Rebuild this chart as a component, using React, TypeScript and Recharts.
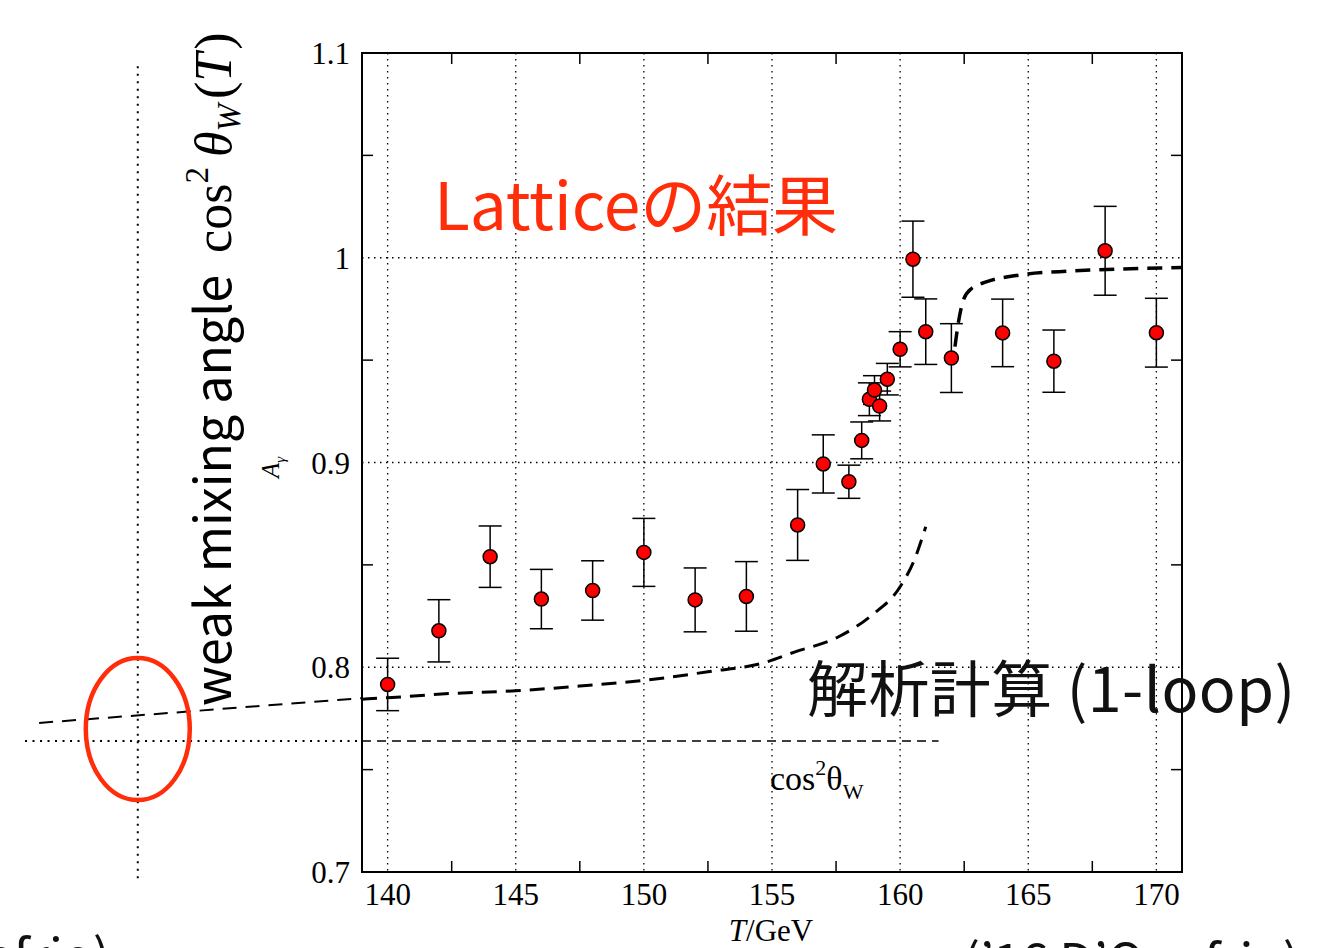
import React from 'react';
import {
  ComposedChart, Line, Scatter, ErrorBar, XAxis, YAxis, CartesianGrid,
  ReferenceArea, ReferenceLine,
} from 'recharts';

// canvas + plot frame (pixels)
const W = 1332;
const H = 948;
const PL = 362;
const PR = 1182;
const PT = 53;
const PB = 872;

// axis ranges
const X_MIN = 139;
const X_MAX = 171;
const Y_MIN = 0.7;
const Y_MAX = 1.1;

const xTicks = [140, 145, 150, 155, 160, 165, 170];
const yTicks = [0.7, 0.8, 0.9, 1.0, 1.1];
const xMinor = [142.5, 147.5, 152.5, 157.5, 162.5, 167.5];
const yMinor = [0.75, 0.85, 0.95, 1.05];

// lattice A_gamma with errors
const latticeT = [140, 142, 144, 146, 148, 150, 152, 154, 156, 157, 158, 158.5, 158.8, 159, 159.2, 159.5, 160, 160.5, 161, 162, 164, 166, 168, 170];
const latticeA = [0.7916, 0.8178, 0.854, 0.8333, 0.8375, 0.8561, 0.8329, 0.8346, 0.8695, 0.8993, 0.8906, 0.9108, 0.9309, 0.9354, 0.9276, 0.9407, 0.9553, 0.9993, 0.9639, 0.951, 0.9633, 0.9495, 1.0034, 0.9634];
const latticeErr = [0.0128, 0.0152, 0.015, 0.0145, 0.0145, 0.0166, 0.0156, 0.017, 0.0173, 0.0142, 0.0081, 0.009, 0.008, 0.007, 0.0073, 0.0077, 0.0086, 0.0186, 0.016, 0.0168, 0.0165, 0.0152, 0.0217, 0.0168];

// 1-loop curve, symmetric phase branch
const loopLowT = [139, 140, 142.5, 145, 147.5, 150, 152.5, 154.6, 155.9, 157.6, 158.9, 160, 160.55, 161];
const loopLowA = [0.7844, 0.7851, 0.7872, 0.7885, 0.7908, 0.7936, 0.7978, 0.8019, 0.8075, 0.8149, 0.8255, 0.8393, 0.8523, 0.8686];

// 1-loop curve, broken phase branch
const loopHighT = [162.14, 162.27, 162.47, 162.79, 163.39, 164.68, 166.63, 168.58, 171];
const loopHighA = [0.9566, 0.9681, 0.9794, 0.985, 0.9883, 0.9916, 0.9935, 0.9945, 0.9952];

// extension of the 1-loop curve to low T (slide annotation, outside the frame)
const loopExtT = [126.4, 139];
const loopExtA = [0.7728, 0.7849];

// zero-temperature value cos^2 theta_W
const cosW = 0.764;
const cosLineT = [139, 161.5];
const cosGuideT = [125.85, 139];

// marker of the T=0 crossing
const markT = 130.25;
const markSpan = [0.697, 1.0956];
const ringCenter = 0.7698;

const lattice = latticeT.map((t, i) => ({ t, v: latticeA[i], err: latticeErr[i] }));
const loopLow = loopLowT.map((t, i) => ({ t, v: loopLowA[i] }));
const loopHigh = loopHighT.map((t, i) => ({ t, v: loopHighA[i] }));
const loopExt = loopExtT.map((t, i) => ({ t, v: loopExtA[i] }));
const cosLine = cosLineT.map((t) => ({ t, v: cosW }));
const cosGuide = cosGuideT.map((t) => ({ t, v: cosW }));
const markLine = markSpan.map((v) => ({ t: markT, v }));
const ring = [{ t: markT, v: ringCenter }];

// background chart spans the whole canvas with the same scale as the frame
const pxX = (PR - PL) / (X_MAX - X_MIN);
const pxY = (PB - PT) / (Y_MAX - Y_MIN);
const bgX: [number, number] = [X_MIN - PL / pxX, X_MAX + (W - PR) / pxX];
const bgY: [number, number] = [Y_MIN - (H - PB) / pxY, Y_MAX + PT / pxY];

const tickLenX = 11 / pxX;
const tickLenY = 11 / pxY;

const RED = '#ff2d0a';
const serif = 'Liberation Serif, Times New Roman, serif';
const sans = 'Noto Sans CJK JP, Noto Sans, sans-serif';

const Dot = (p: any) => (
  <circle cx={p.cx} cy={p.cy} r={7} fill="#ff0000" stroke="#000" strokeWidth={1.5} />
);

const Ring = (p: any) => (
  <ellipse cx={p.cx} cy={p.cy} rx={52} ry={71} fill="none" stroke={RED} strokeWidth={4.5} />
);

export default function App() {
  return (
    <div style={{ position: 'absolute', left: 0, top: 0, width: W, height: H, overflow: 'hidden', background: '#fff' }}>
      {/* layer 1: annotations outside the frame */}
      <div style={{ position: 'absolute', left: 0, top: 0 }}>
        <ComposedChart width={W} height={H} margin={{ top: 0, right: 0, bottom: 0, left: 0 }}>
          <XAxis dataKey="t" type="number" domain={bgX} allowDataOverflow hide />
          <YAxis type="number" domain={bgY} allowDataOverflow hide />
          <Line data={markLine} dataKey="v" stroke="#000" strokeWidth={2} strokeDasharray="2 5.5" dot={false} isAnimationActive={false} />
          <Line data={cosGuide} dataKey="v" stroke="#000" strokeWidth={2} strokeDasharray="2 5.5" dot={false} isAnimationActive={false} />
          <Line data={loopExt} dataKey="v" stroke="#000" strokeWidth={2} strokeDasharray="14 9" dot={false} isAnimationActive={false} />
          <Scatter data={ring} dataKey="v" shape={Ring} isAnimationActive={false} />
        </ComposedChart>
      </div>

      {/* layer 2: the figure */}
      <div style={{ position: 'absolute', left: 0, top: 0 }}>
        <ComposedChart width={W} height={H} margin={{ top: PT, right: W - PR, bottom: 0, left: 0 }}>
          <CartesianGrid stroke="#000" strokeWidth={1.3} strokeDasharray="1.5 4.5" />
          <XAxis
            dataKey="t" type="number" domain={[X_MIN, X_MAX]} ticks={xTicks} interval={0}
            allowDataOverflow height={H - PB} axisLine={false} tickLine={false} tickSize={0} tickMargin={11}
            tick={{ fontFamily: serif, fontSize: 31, fill: '#000' }}
          />
          <YAxis
            type="number" domain={[Y_MIN, Y_MAX]} ticks={yTicks} interval={0}
            allowDataOverflow width={PL} axisLine={false} tickLine={false} tickSize={0} tickMargin={12}
            tickFormatter={(v: number) => String(Number(v.toFixed(2)))}
            tick={{ fontFamily: serif, fontSize: 31, fill: '#000' }}
          />
          <ReferenceArea x1={X_MIN} x2={X_MAX} y1={Y_MIN} y2={Y_MAX} fill="none" stroke="#000" strokeWidth={2} ifOverflow="visible" />
          {xMinor.map((t) => (
            <ReferenceLine key={'b' + t} segment={[{ x: t, y: Y_MIN }, { x: t, y: Y_MIN + tickLenY }]} stroke="#000" strokeWidth={1.5} />
          ))}
          {xMinor.map((t) => (
            <ReferenceLine key={'t' + t} segment={[{ x: t, y: Y_MAX }, { x: t, y: Y_MAX - tickLenY }]} stroke="#000" strokeWidth={1.5} />
          ))}
          {yMinor.map((v) => (
            <ReferenceLine key={'l' + v} segment={[{ x: X_MIN, y: v }, { x: X_MIN + tickLenX, y: v }]} stroke="#000" strokeWidth={1.5} />
          ))}
          {yMinor.map((v) => (
            <ReferenceLine key={'r' + v} segment={[{ x: X_MAX, y: v }, { x: X_MAX - tickLenX, y: v }]} stroke="#000" strokeWidth={1.5} />
          ))}
          <Line data={cosLine} dataKey="v" stroke="#000" strokeWidth={1.5} strokeDasharray="9 6" dot={false} isAnimationActive={false} />
          <Line data={loopLow} dataKey="v" type="monotone" stroke="#000" strokeWidth={3} strokeDasharray="15 9" dot={false} isAnimationActive={false} />
          <Line data={loopHigh} dataKey="v" type="monotone" stroke="#000" strokeWidth={3.5} strokeDasharray="15 9" dot={false} isAnimationActive={false} />
          <Scatter data={lattice} dataKey="v" shape={Dot} isAnimationActive={false}>
            <ErrorBar dataKey="err" direction="y" width={11.5} stroke="#000" strokeWidth={1.5} />
          </Scatter>
        </ComposedChart>
      </div>

      {/* layer 3: texts */}
      <svg width={W} height={H} style={{ position: 'absolute', left: 0, top: 0, pointerEvents: 'none' }}>
        <text transform="translate(231,706) rotate(-90)" fontFamily={sans} fill="#000">
          <tspan fontSize={50}>weak mixing angle</tspan>
          <tspan fontFamily={serif} fontSize={52} dx={22}>cos</tspan>
          <tspan fontFamily={serif} fontSize={33} dy={-23}>2</tspan>
          <tspan fontFamily={serif} fontSize={52} fontStyle="italic" dy={23} dx={10}>θ</tspan>
          <tspan fontFamily={serif} fontSize={33} fontStyle="italic" dy={9}>W</tspan>
          <tspan fontFamily={serif} fontSize={52} dy={-9} dx={5}>(</tspan>
          <tspan fontFamily={serif} fontSize={52} fontStyle="italic">T</tspan>
          <tspan fontFamily={serif} fontSize={52} dx={3}>)</tspan>
        </text>
        <text transform="translate(279,478) rotate(-90)" fontFamily={serif} fontSize={25} fontStyle="italic" fill="#000">
          <tspan>A</tspan>
          <tspan fontSize={15} dy={6}>γ</tspan>
        </text>
        <text x={771} y={941} textAnchor="middle" fontFamily={serif} fontSize={31} fill="#000">
          <tspan fontStyle="italic">T</tspan>
          <tspan>/GeV</tspan>
        </text>
        <text x={770} y={790} fontFamily={serif} fontSize={34} fill="#000">
          <tspan>cos</tspan>
          <tspan fontSize={22} dy={-15}>2</tspan>
          <tspan fontSize={34} dy={15}>θ</tspan>
          <tspan fontSize={22} dy={9}>W</tspan>
        </text>
        <text x={434} y={230} fontFamily={sans} fontSize={66} fill={RED} textLength={404} lengthAdjust="spacing">Latticeの結果</text>
        <text x={807} y={712} fontFamily={sans} fontSize={61} fill="#111" textLength={488} lengthAdjust="spacing">解析計算 (1-loop)</text>
        <text x={110} y={975} textAnchor="end" fontFamily={sans} fontSize={50} fill="#111">efrio)</text>
        <text x={963} y={980} fontFamily={sans} fontSize={50} fill="#111" textLength={337} lengthAdjust="spacing">(’16 D’Onofrio)</text>
      </svg>
    </div>
  );
}
